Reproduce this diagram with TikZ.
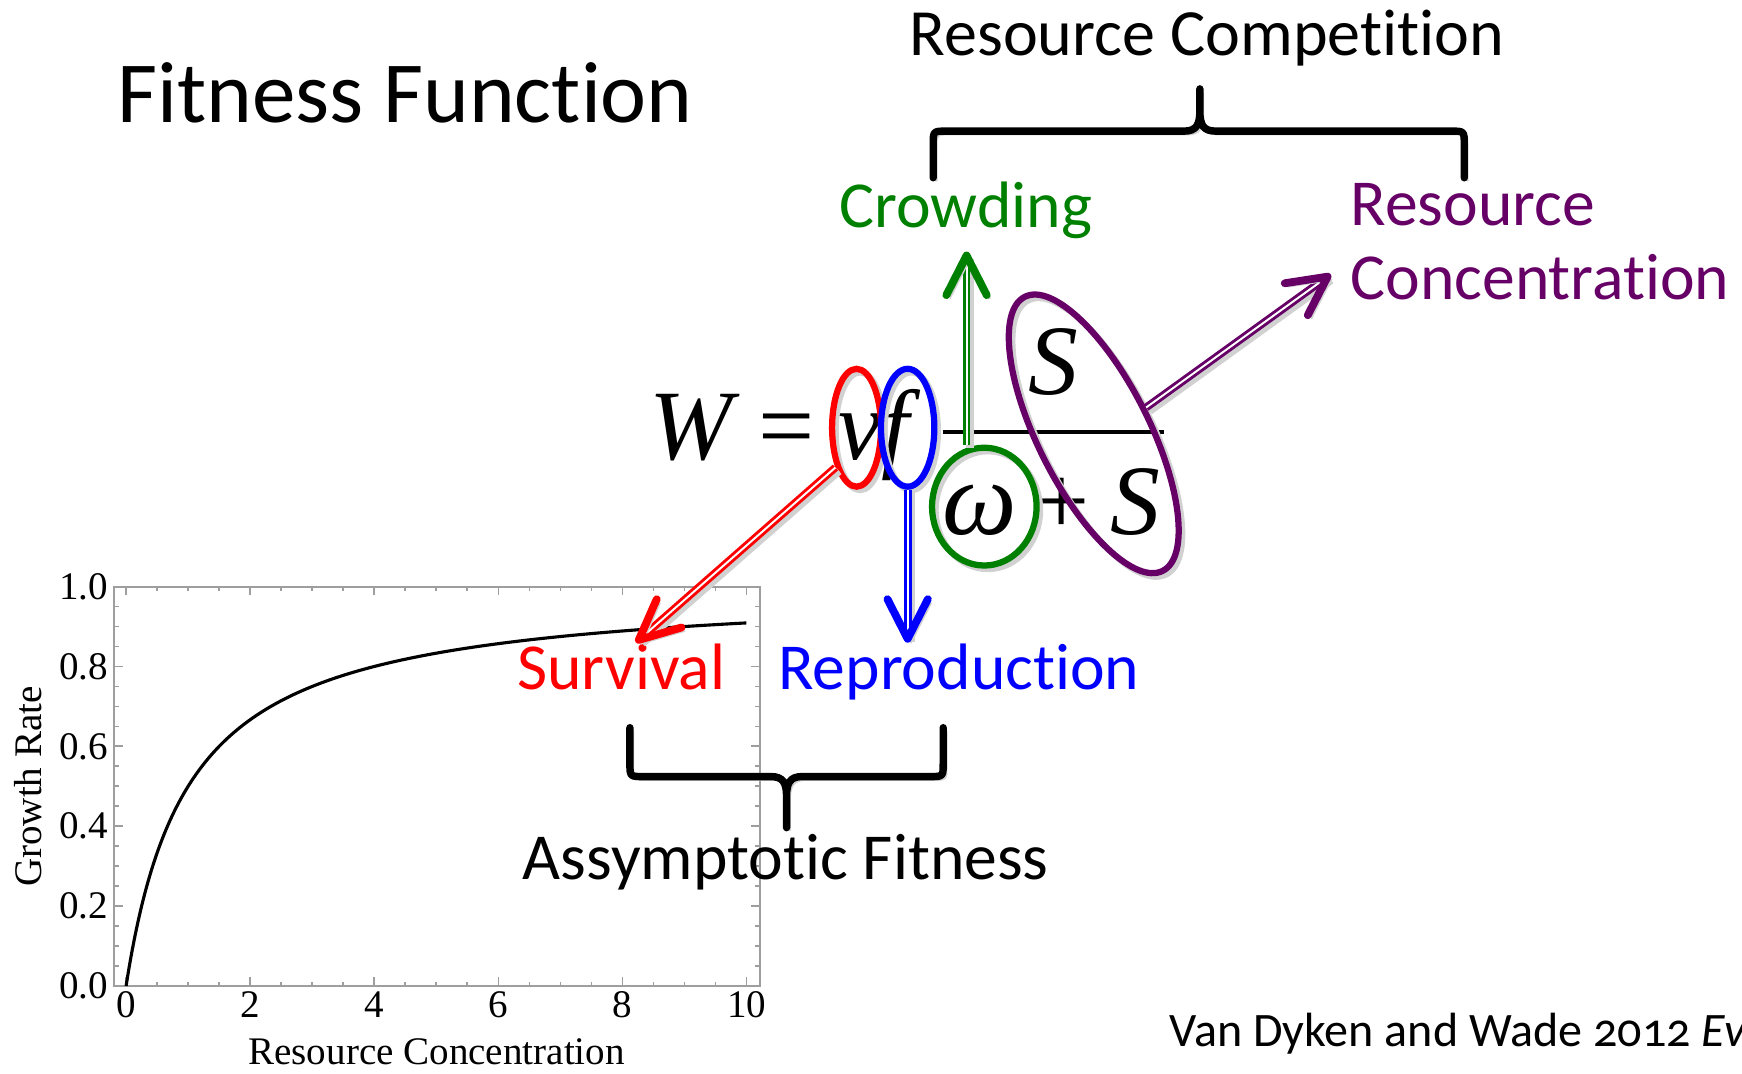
\documentclass[tikz,border=0pt]{standalone}
\usepackage{fontspec}
\setmainfont[Ligatures=NoCommon]{Carlito}
\newfontfamily\plotfont{Liberation Serif}
\usetikzlibrary{calc,shapes.geometric}

\newcommand\atsize[1]{\fontsize{#1}{#1}\selectfont}

\definecolor{crowdgreen}{HTML}{008000}
\definecolor{survred}{HTML}{FF0000}
\definecolor{reproblue}{HTML}{0000FF}
\definecolor{respurple}{HTML}{660066}
\definecolor{framegray}{gray}{0.62}

\tikzset{
  drop/.style={preaction={draw=black!18, transform canvas={shift={(0.9pt,-0.9pt)}}}},
  lbl/.style={inner sep=0pt, anchor=base west, font=\atsize{16.8pt}},
  eqsym/.style={inner sep=0pt, anchor=base, font=\plotfont\itshape\atsize{25.5pt}},
  eqop/.style={inner sep=0pt, anchor=base, font=\plotfont\atsize{25.5pt}},
  ring/.style={draw, ellipse, line width=1.6pt, inner sep=0pt, drop},
  shaft/.style={line width=0.75pt, double=white, double distance=0.5pt,
    preaction={draw=black!18, double=black!18, transform canvas={shift={(0.9pt,-0.9pt)}}}},
  head/.style={line width=2pt, line cap=round, line join=round, drop},
  brace/.style={line width=1.9pt, line cap=round, line join=round, drop},
  tick/.style={framegray, line width=0.45pt},
  ticklbl/.style={inner sep=0pt, font=\plotfont\atsize{10pt}},
}

\begin{document}
\begin{tikzpicture}[x=0.01cm, y=-0.01cm]
\useasboundingbox (0,0) rectangle (1568,966);
\clip (0,0) rectangle (1568,966);

% ---------- growth-rate plot ----------
\draw[framegray, line width=0.5pt] (103,528) rectangle (684,887.5);
\foreach \d in {0,2,...,10} {
  \draw[tick] ({113.5+55.85*\d},887.5) -- ++(0,-8);
  \draw[tick] ({113.5+55.85*\d},528) -- ++(0,8);
  \node[ticklbl, anchor=base] (xl\d) at ({113.5+55.85*\d},916) {\d};
}
\foreach \d in {0.5,1,...,9.5} {
  \draw[tick] ({113.5+55.85*\d},887.5) -- ++(0,-4);
  \draw[tick] ({113.5+55.85*\d},528) -- ++(0,4);
}
\foreach \i in {0,...,5} {
  \draw[tick] (103,{887.5-359.5*\i/5}) -- ++(8,0);
  \draw[tick] (684,{887.5-359.5*\i/5}) -- ++(-8,0);
}
\foreach \i in {1,...,19} {
  \draw[tick] (103,{887.5-359.5*\i/20}) -- ++(4,0);
  \draw[tick] (684,{887.5-359.5*\i/20}) -- ++(-4,0);
}
\foreach \i/\t in {0/0.0,1/0.2,2/0.4,3/0.6,4/0.8,5/1.0}
  \node[ticklbl, anchor=east] (yl\i) at (98,{887.5-359.5*\i/5}) {\t};
\draw[line width=0.8pt] plot[domain=0:10, samples=400]
  ({113.5+55.85*\x},{887.5-359.5*\x/(1+\x)});
\node[ticklbl, anchor=base] (xlabel) at (393,958.5) {Resource Concentration};
\node[ticklbl, rotate=90] (ylabel) at (25,708) {Growth Rate};

% ---------- titles and labels ----------
\node[lbl, font=\atsize{22.3pt}] (title) at (105,110) {Fitness Function};
\node[lbl, anchor=base, font=\atsize{16.9pt}] (rescomp) at (1086.5,50) {Resource Competition};
\node[lbl, crowdgreen] (crowd) at (755,205) {Crowding};
\node[lbl, respurple] (res1) at (1215,203) {Resource};
\node[lbl, respurple] (res2) at (1215,270) {Concentration};
\node[lbl, survred] (surv) at (465,621) {Survival};
\node[lbl, reproblue] (repro) at (700,621) {Reproduction};
\node[lbl] (asym) at (470,792) {Assymptotic Fitness};
\node[lbl, font=\atsize{12.3pt}\addfontfeatures{Numbers=OldStyle}] (cite) at (1052,942)
  {Van Dyken and Wade 2012 \textit{Ev}};

% ---------- the fitness equation ----------
\node[eqsym] (W) at (622,414) {W};
\node[eqop] (eq) at (708,414) {=};
\node[eqsym] (v) at (774,414) {v};
\node[eqsym] (f) at (806,414) {f};
\draw[line width=1.1pt] (849,389) -- (1048,389);
\node[eqsym] (Snum) at (948,355) {S};
\node[eqsym, font=\plotfont\itshape\atsize{27pt}] (omega) at (882,481) {ω};
\node[eqop] (plus) at (956,481) {+};
\node[eqsym] (Sden) at (1022,481) {S};

% ---------- highlighting rings ----------
\node[ring, survred, minimum width=4.4mm, minimum height=10.6mm] (vring) at (771,385) {};
\node[ring, reproblue, minimum width=4.8mm, minimum height=10.6mm] (fring) at (817,385) {};
\node[ring, crowdgreen, minimum width=9.4mm, minimum height=10.6mm] (wring) at (886,456) {};
\node[ring, respurple, minimum width=27.6mm, minimum height=10mm, rotate=-63.3] (sring) at (984.5,390.5) {};

% ---------- arrows ----------
\coordinate (crowdtip) at (870,230);
\coordinate (survtip) at (575,576);
\coordinate (reprotip) at (817,575);
\coordinate (restip) at (1195,249);

\draw[shaft, crowdgreen] (crowdtip |- wring.north) -- (crowdtip);
\draw[head, crowdgreen] ($(crowdtip)!4mm!27:(crowdtip |- wring.north)$) -- (crowdtip)
  -- ($(crowdtip)!4mm!-27:(crowdtip |- wring.north)$);

\draw[shaft, survred] (vring.242) -- (survtip);
\draw[head, survred] ($(survtip)!4mm!25:(vring.242)$) -- (survtip)
  -- ($(survtip)!4mm!-25:(vring.242)$);

\draw[shaft, reproblue] (fring.south) -- (reprotip);
\draw[head, reproblue] ($(reprotip)!4mm!27:(fring.south)$) -- (reprotip)
  -- ($(reprotip)!4mm!-27:(fring.south)$);

\draw[shaft, respurple] (sring.north) -- (restip);
\draw[head, respurple] ($(restip)!3.9mm!27:(sring.north)$) -- (restip)
  -- ($(restip)!3.9mm!-27:(sring.north)$);

% ---------- braces ----------
\draw[brace] (840,160) -- (840,130) .. controls (840,118) .. (852,118) -- (1066,118)
  .. controls (1077,118) and (1080,112) .. (1080,100) -- (1080,80) -- (1080,100)
  .. controls (1080,112) and (1083,118) .. (1094,118) -- (1306,118)
  .. controls (1318,118) .. (1318,130) -- (1318,160);
\draw[brace] (567,655) -- (567,687) .. controls (567,699) .. (579,699) -- (694,699)
  .. controls (705,699) and (708,705) .. (708,717) -- (708,745) -- (708,717)
  .. controls (708,705) and (711,699) .. (722,699) -- (837,699)
  .. controls (849,699) .. (849,687) -- (849,655);
\end{tikzpicture}
\end{document}
